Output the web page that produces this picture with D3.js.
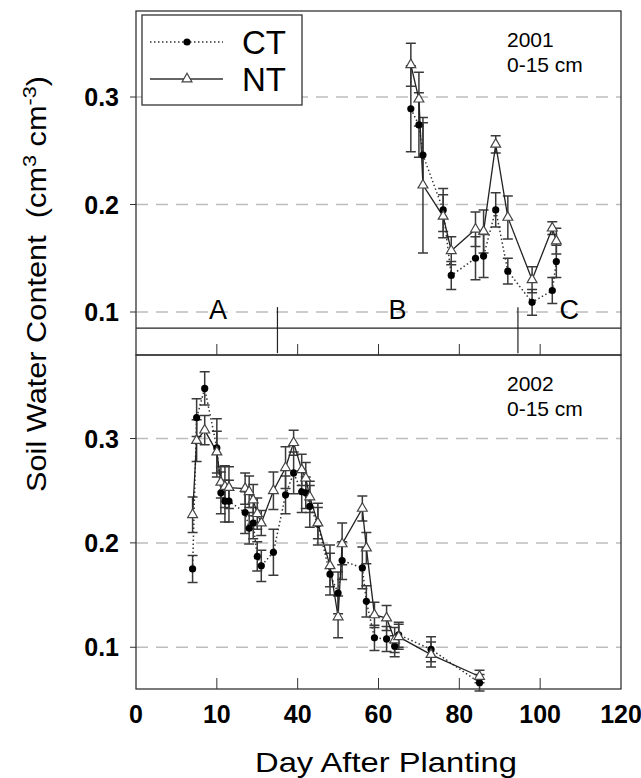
<!DOCTYPE html>
<html>
<head>
<meta charset="utf-8">
<script src="https://cdn.jsdelivr.net/npm/d3@7"></script>
<style>
  body { margin: 0; background: #fff; }
  svg { display: block; font-family: "Liberation Sans", Arial, sans-serif; }
</style>
</head>
<body>
<script>
// 2001 season, 0-15 cm
var days2001 = [68, 70, 71, 76, 78, 84, 86, 89, 92, 98, 103, 104];
var ct2001 = [0.289, 0.274, 0.246, 0.195, 0.134, 0.150, 0.152, 0.195, 0.138, 0.109, 0.120, 0.147];
var ctErr2001 = [0.040, 0.030, 0.030, 0.020, 0.013, 0.020, 0.020, 0.016, 0.012, 0.012, 0.012, 0.015];
var nt2001 = [0.330, 0.298, 0.218, 0.189, 0.157, 0.177, 0.175, 0.256, 0.188, 0.130, 0.178, 0.166];
var ntErr2001 = [0.020, 0.025, 0.063, 0.020, 0.013, 0.016, 0.020, 0.008, 0.020, 0.012, 0.006, 0.012];

// 2002 season, 0-15 cm
var days2002 = [14, 15, 17, 20, 21, 22, 23, 27, 28, 29, 30, 31, 34, 37, 39, 41, 42, 43, 45, 48, 50, 51, 56, 57, 59, 62, 64, 65, 73, 85];
var ct2002 = [0.175, 0.320, 0.348, 0.291, 0.248, 0.240, 0.240, 0.229, 0.214, 0.219, 0.187, 0.178, 0.191, 0.246, 0.267, 0.249, 0.248, 0.235, 0.218, 0.170, 0.152, 0.183, 0.176, 0.144, 0.109, 0.108, 0.101, 0.112, 0.098, 0.066];
var ctErr2002 = [0.013, 0.018, 0.016, 0.028, 0.020, 0.020, 0.020, 0.020, 0.015, 0.015, 0.014, 0.015, 0.022, 0.018, 0.020, 0.020, 0.015, 0.020, 0.020, 0.020, 0.020, 0.018, 0.020, 0.015, 0.012, 0.012, 0.010, 0.012, 0.012, 0.008];
var nt2002 = [0.227, 0.298, 0.308, 0.287, 0.258, 0.254, 0.253, 0.252, 0.249, 0.241, 0.228, 0.219, 0.250, 0.272, 0.296, 0.270, 0.262, 0.244, 0.219, 0.178, 0.129, 0.199, 0.233, 0.195, 0.131, 0.128, 0.107, 0.110, 0.093, 0.072];
var ntErr2002 = [0.017, 0.020, 0.014, 0.020, 0.015, 0.020, 0.020, 0.015, 0.015, 0.015, 0.015, 0.012, 0.018, 0.020, 0.012, 0.015, 0.015, 0.015, 0.015, 0.020, 0.020, 0.020, 0.012, 0.015, 0.012, 0.012, 0.012, 0.012, 0.012, 0.006];

var yTicks = [0.1, 0.2, 0.3];
var xTicks = [0, 20, 40, 60, 80, 100, 120];
var xTickLabels = ["0", "10", "40", "60", "80", "100", "120"];

// growth stage bar in the 2001 panel
var stageLevel = 0.085;
var stageBounds = [35, 94.5];
var stageLabels = ["A", "B", "C"];
var stageLabelDays = [20.3, 64.7, 107.2];

var seriesNames = ["CT", "NT"];
var panelNotes = [["2001", "0-15 cm"], ["2002", "0-15 cm"]];

var width = 641, height = 778;
var left = 136, right = 621;

var svg = d3.select("body").append("svg")
    .attr("width", width)
    .attr("height", height);

var x = d3.scaleLinear().domain([0, 120]).range([left, right]);

var panels = [
  {top: 11, bottom: 355, days: days2001, ct: ct2001, ctErr: ctErr2001, nt: nt2001, ntErr: ntErr2001, note: panelNotes[0], noteX: 507, noteY: 47},
  {top: 355, bottom: 689, days: days2002, ct: ct2002, ctErr: ctErr2002, nt: nt2002, ntErr: ntErr2002, note: panelNotes[1], noteX: 507, noteY: 391}
];

var tri = d3.symbol().type(d3.symbolTriangle).size(42);

panels.forEach(function(p, pi) {
  var y = d3.scaleLinear().domain([0.06, 0.38]).range([p.bottom, p.top]);
  var g = svg.append("g");

  // dashed reference lines
  g.selectAll("line.grid")
    .data(yTicks)
    .join("line")
      .attr("class", "grid")
      .attr("x1", left).attr("x2", right)
      .attr("y1", d => y(d)).attr("y2", d => y(d))
      .attr("stroke", "#bdbdbd")
      .attr("stroke-width", 1.5)
      .attr("stroke-dasharray", "12,8");

  // y axis ticks (outward) and labels
  g.selectAll("line.ytick")
    .data(yTicks)
    .join("line")
      .attr("class", "ytick")
      .attr("x1", left - 6).attr("x2", left)
      .attr("y1", d => y(d)).attr("y2", d => y(d))
      .attr("stroke", "#333");
  g.selectAll("text.ylab")
    .data(yTicks)
    .join("text")
      .attr("class", "ylab")
      .attr("x", 119)
      .attr("y", d => y(d))
      .attr("dy", "0.36em")
      .attr("text-anchor", "end")
      .attr("font-size", 25)
      .attr("font-weight", "bold")
      .text(d => d3.format(".1f")(d));

  // x ticks pointing inward from bottom edge
  g.selectAll("line.xtick")
    .data(xTicks.slice(1, -1))
    .join("line")
      .attr("class", "xtick")
      .attr("x1", d => x(d)).attr("x2", d => x(d))
      .attr("y1", p.bottom).attr("y2", p.bottom - 11)
      .attr("stroke", "#333");

  if (pi == 0) {
    g.append("line")
      .attr("x1", left).attr("x2", right)
      .attr("y1", y(stageLevel)).attr("y2", y(stageLevel))
      .attr("stroke", "#222").attr("stroke-width", 1.2);
    g.selectAll("line.stage")
      .data(stageBounds)
      .join("line")
        .attr("class", "stage")
        .attr("x1", d => x(d)).attr("x2", d => x(d))
        .attr("y1", y(stageLevel) - 21).attr("y2", y(stageLevel) + 25)
        .attr("stroke", "#222").attr("stroke-width", 1.2);
    g.selectAll("text.stage")
      .data(stageLabels)
      .join("text")
        .attr("class", "stage")
        .attr("x", (d, i) => x(stageLabelDays[i]))
        .attr("y", y(stageLevel) - 9)
        .attr("text-anchor", "middle")
        .attr("font-size", 27)
        .text(d => d);
  }

  // year / depth note
  g.selectAll("text.note")
    .data(p.note)
    .join("text")
      .attr("class", "note")
      .attr("x", p.noteX)
      .attr("y", (d, i) => p.noteY + i * 25)
      .attr("font-size", 21)
      .text(d => d);

  var pts = p.days.map((d, i) => ({day: d, ct: p.ct[i], ctErr: p.ctErr[i], nt: p.nt[i], ntErr: p.ntErr[i]}));

  // error bars for both series
  ["ct", "nt"].forEach(function(k) {
    var eb = g.append("g").attr("stroke", "#3a3a3a").attr("stroke-width", 1.5).attr("fill", "none");
    eb.selectAll("path")
      .data(pts)
      .join("path")
        .attr("d", function(d) {
          var cx = x(d.day), y0 = y(d[k] - d[k + "Err"]), y1 = y(d[k] + d[k + "Err"]);
          return "M" + (cx - 5) + "," + y1 + "H" + (cx + 5) + "M" + cx + "," + y1 + "V" + y0 + "M" + (cx - 5) + "," + y0 + "H" + (cx + 5);
        });
  });

  var ctLine = d3.line().x(d => x(d.day)).y(d => y(d.ct));
  var ntLine = d3.line().x(d => x(d.day)).y(d => y(d.nt));

  g.append("path")
    .datum(pts)
    .attr("d", ctLine)
    .attr("fill", "none")
    .attr("stroke", "#333")
    .attr("stroke-width", 1.5)
    .attr("stroke-dasharray", "1.5,2.5");
  g.append("path")
    .datum(pts)
    .attr("d", ntLine)
    .attr("fill", "none")
    .attr("stroke", "#222")
    .attr("stroke-width", 1.3);

  g.selectAll("circle.ct")
    .data(pts)
    .join("circle")
      .attr("class", "ct")
      .attr("cx", d => x(d.day))
      .attr("cy", d => y(d.ct))
      .attr("r", 3.6)
      .attr("fill", "#000");
  g.selectAll("path.nt")
    .data(pts)
    .join("path")
      .attr("class", "nt")
      .attr("d", tri)
      .attr("transform", d => "translate(" + x(d.day) + "," + y(d.nt) + ")")
      .attr("fill", "#fff")
      .attr("stroke", "#444")
      .attr("stroke-width", 1.2);

  // frame
  g.append("rect")
    .attr("x", left).attr("y", p.top)
    .attr("width", right - left).attr("height", p.bottom - p.top)
    .attr("fill", "none")
    .attr("stroke", "#333")
    .attr("stroke-width", 1.3);
});

// bottom axis labels
svg.selectAll("text.xlab")
  .data(xTicks)
  .join("text")
    .attr("class", "xlab")
    .attr("x", d => x(d))
    .attr("y", 723)
    .attr("text-anchor", "middle")
    .attr("font-size", 25)
    .attr("font-weight", "bold")
    .text((d, i) => xTickLabels[i]);

svg.append("text")
  .attr("x", 386)
  .attr("y", 772)
  .attr("text-anchor", "middle")
  .attr("font-size", 28)
  .attr("textLength", 262)
  .attr("lengthAdjust", "spacingAndGlyphs")
  .text("Day After Planting");

var yt = svg.append("text")
  .attr("transform", "translate(46,284) rotate(-90)")
  .attr("text-anchor", "middle")
  .attr("font-size", 27)
  .attr("textLength", 416)
  .attr("lengthAdjust", "spacingAndGlyphs");
yt.append("tspan").text("Soil Water Content\u00a0\u00a0(cm");
yt.append("tspan").attr("baseline-shift", "super").attr("font-size", 19).text("3");
yt.append("tspan").text(" cm");
yt.append("tspan").attr("baseline-shift", "super").attr("font-size", 19).text("-3");
yt.append("tspan").text(")");

// legend
var lg = svg.append("g");
lg.append("rect")
  .attr("x", 142).attr("y", 15)
  .attr("width", 160).attr("height", 90)
  .attr("fill", "#fff")
  .attr("stroke", "#333")
  .attr("stroke-width", 1.3);
var legY = [42, 79];
seriesNames.forEach(function(name, i) {
  var line = lg.append("line")
    .attr("x1", 150).attr("x2", 223)
    .attr("y1", legY[i]).attr("y2", legY[i])
    .attr("stroke", "#333")
    .attr("stroke-width", i == 0 ? 1.5 : 1.3);
  if (i == 0) {
    line.attr("stroke-dasharray", "1.5,2.5");
    lg.append("circle").attr("cx", 187).attr("cy", legY[i]).attr("r", 3.6).attr("fill", "#000");
  } else {
    lg.append("path").attr("d", tri).attr("transform", "translate(187," + legY[i] + ")")
      .attr("fill", "#fff").attr("stroke", "#444").attr("stroke-width", 1.2);
  }
  lg.append("text")
    .attr("x", 242)
    .attr("y", legY[i] + 12)
    .attr("font-size", 33)
    .text(name);
});
</script>
</body>
</html>
